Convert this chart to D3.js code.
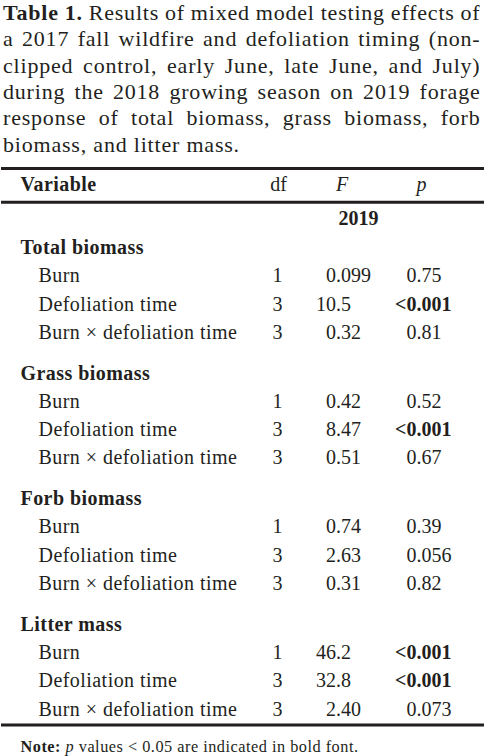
<!DOCTYPE html>
<html>
<head>
<meta charset="utf-8">
<script src="https://cdn.jsdelivr.net/npm/d3@7/dist/d3.min.js"></script>
<style>
  html, body { margin: 0; padding: 0; background: #ffffff; }
  svg { display: block; }
  text { font-family: "Liberation Serif", "DejaVu Serif", serif; fill: #231f20; }
</style>
</head>
<body>
<svg id="chart" width="484" height="756"></svg>
<script>
// ---------- data ----------
const titleLines = [
  "Table 1.|Results of mixed model testing effects of",
  "a 2017 fall wildfire and defoliation timing (non-",
  "clipped control, early June, late June, and July)",
  "during the 2018 growing season on 2019 forage",
  "response of total biomass, grass biomass, forb",
  "biomass, and litter mass."
];
const columnHeaders = ["Variable", "df", "F", "p"];
const yearLabel = "2019";
const groups = ["Total biomass", "Grass biomass", "Forb biomass", "Litter mass"];
const terms = ["Burn", "Defoliation time", "Burn \u00d7 defoliation time"];
const dfValues = [1, 3, 3];
const fValues = [
  ["0.099", "10.5", "0.32"],
  ["0.42", "8.47", "0.51"],
  ["0.74", "2.63", "0.31"],
  ["46.2", "32.8", "2.40"]
];
const pValues = [
  ["0.75", "<0.001", "0.81"],
  ["0.52", "<0.001", "0.67"],
  ["0.39", "0.056", "0.82"],
  ["<0.001", "<0.001", "0.073"]
];
const noteParts = [
  {t: "Note:", w: "bold", s: "normal"},
  {t: " ", w: "normal", s: "normal"},
  {t: "p", w: "normal", s: "italic"},
  {t: " values < 0.05 are indicated in bold font.", w: "normal", s: "normal"}
];

// ---------- layout ----------
const W = 484;
const svg = d3.select("#chart");
const FS = 20;        // table font size
const TFS = 22;       // title font size
const TLS = 0.8;      // title letter spacing
const LS = 0.45;      // letter spacing for labels

// title (justified)
const titleLeft = 3, titleRight = 480.5;
const yTitle = d3.scaleLinear().domain([0, 1]).range([19.8, 46.15]);
const measure = svg.append("text").attr("font-size", TFS)
  .attr("letter-spacing", TLS).attr("x", -1000).attr("y", -1000);
function wordWidth(t, bold) {
  measure.attr("font-weight", bold ? "bold" : "normal").text(t);
  return measure.node().getComputedTextLength();
}
titleLines.forEach((line, i) => {
  let words = [];
  if (line.includes("|")) {
    const [b, rest] = line.split("|");
    b.split(" ").forEach(w => words.push({t: w, b: true}));
    rest.split(" ").forEach(w => words.push({t: w, b: false}));
  } else {
    line.split(" ").forEach(w => words.push({t: w, b: false}));
  }
  const widths = words.map(w => wordWidth(w.t, w.b));
  const total = d3.sum(widths);
  const last = i === titleLines.length - 1;
  const spaceW = TFS * 0.25 + TLS;
  const gap = last ? spaceW : (titleRight - titleLeft - total) / (words.length - 1);
  let x = titleLeft;
  words.forEach((w, k) => {
    svg.append("text")
      .attr("x", x).attr("y", yTitle(i))
      .attr("font-size", TFS)
      .attr("letter-spacing", TLS)
      .attr("font-weight", w.b ? "bold" : "normal")
      .text(w.t);
    x += widths[k] + gap;
  });
});
measure.remove();

// rules
const rules = [168.5, 202.3, 725];
svg.selectAll("line.rule").data(rules).enter().append("line")
  .attr("class", "rule")
  .attr("x1", 1).attr("x2", W)
  .attr("y1", d => d).attr("y2", d => d)
  .attr("stroke", "#231f20").attr("stroke-width", 3);

// column positions
const xCol = d3.scaleOrdinal().domain(["Variable", "df", "F", "p"]).range([20.5, 277.5, 336, 416.5]);
const xHeaderCenter = d3.scaleOrdinal().domain(["df", "F", "p"]).range([278.5, 342, 421.5]);
const xTerm = 38.5;

// header
svg.append("text").attr("x", xCol("Variable")).attr("y", 190.7)
  .attr("font-size", FS).attr("font-weight", "bold").attr("letter-spacing", LS).text(columnHeaders[0]);
columnHeaders.slice(1).forEach(h => {
  svg.append("text").attr("x", xHeaderCenter(h)).attr("y", 190.7)
    .attr("font-size", FS).attr("text-anchor", "middle")
    .attr("font-style", h === "df" ? "normal" : "italic")
    .text(h);
});
svg.append("text").attr("x", 358.5).attr("y", 225)
  .attr("font-size", FS).attr("font-weight", "bold").attr("text-anchor", "middle").text(yearLabel);

// body rows
const yGroup = d3.scaleLinear().domain([0, groups.length - 1]).range([254, 630.7]);
const yRow = d3.scaleLinear().domain([0, 1]).range([0, 28.3]);

function decimalText(g, str, xDec, y, bold) {
  const idx = str.indexOf(".");
  const intPart = idx >= 0 ? str.slice(0, idx) : str;
  const fracPart = idx >= 0 ? str.slice(idx) : "";
  g.append("text").attr("x", xDec).attr("y", y).attr("font-size", FS)
    .attr("font-weight", bold ? "bold" : "normal").attr("text-anchor", "end").text(intPart);
  g.append("text").attr("x", xDec).attr("y", y).attr("font-size", FS)
    .attr("font-weight", bold ? "bold" : "normal").attr("text-anchor", "start").text(fracPart);
}

groups.forEach((grp, gi) => {
  const g = svg.append("g");
  const y0 = yGroup(gi);
  g.append("text").attr("x", xCol("Variable")).attr("y", y0)
    .attr("font-size", FS).attr("font-weight", "bold").attr("letter-spacing", LS).text(grp);
  terms.forEach((t, ti) => {
    const y = y0 + yRow(ti + 1);
    g.append("text").attr("x", xTerm).attr("y", y).attr("font-size", FS)
      .attr("letter-spacing", LS).text(t);
    g.append("text").attr("x", xCol("df")).attr("y", y).attr("font-size", FS)
      .attr("text-anchor", "middle").text(dfValues[ti]);
    decimalText(g, fValues[gi][ti], xCol("F"), y, false);
    const pStr = pValues[gi][ti];
    const pNum = parseFloat(pStr.replace("<", ""));
    decimalText(g, pStr, xCol("p"), y, pNum < 0.05);
  });
});

// note
const note = svg.append("text").attr("x", 20.5).attr("y", 751.8)
  .attr("font-size", 16.3).attr("letter-spacing", 0.5);
noteParts.forEach(p => {
  note.append("tspan").attr("font-weight", p.w).attr("font-style", p.s)
    .attr("xml:space", "preserve").text(p.t);
});
note.attr("style", "white-space: pre");
</script>
</body>
</html>
